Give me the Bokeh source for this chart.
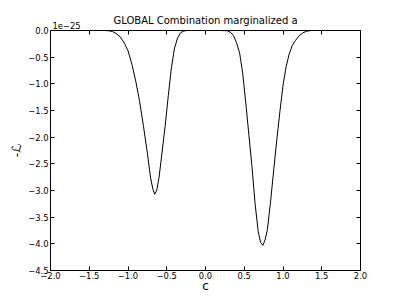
from bokeh.plotting import figure
from bokeh.models import Range1d, LinearAxis, FixedTicker, CustomJSTickFormatter, Title
from bokeh.embed import file_html
from bokeh.resources import INLINE

# Data (y values in units of 1e-25)
c_vals = [-2.0, -1.30, -1.25, -1.20, -1.15, -1.10, -1.05, -1.00, -0.95, -0.90,
          -0.85, -0.80, -0.75, -0.71, -0.68, -0.655, -0.63, -0.60, -0.56, -0.52,
          -0.48, -0.44, -0.40, -0.36, -0.32, -0.28, -0.24,
          0.20, 0.28, 0.32, 0.36, 0.40, 0.44, 0.48, 0.52, 0.56, 0.60,
          0.64, 0.68, 0.71, 0.74, 0.77, 0.80, 0.84, 0.88, 0.92, 0.96,
          1.00, 1.04, 1.08, 1.12, 1.16, 1.20, 1.25, 1.30, 1.36, 2.0]
L_vals = [0.0, 0.0, -0.005, -0.02, -0.06, -0.12, -0.23, -0.38, -0.63, -0.95,
          -1.33, -1.80, -2.30, -2.75, -2.97, -3.07, -3.00, -2.76, -2.28, -1.78,
          -1.22, -0.70, -0.33, -0.14, -0.04, -0.01, 0.0,
          0.0, -0.005, -0.03, -0.09, -0.23, -0.42, -0.80, -1.36, -1.96, -2.56,
          -3.25, -3.77, -3.97, -4.03, -3.92, -3.72, -3.20, -2.62, -2.05, -1.52,
          -1.03, -0.68, -0.44, -0.28, -0.19, -0.11, -0.05, -0.015, 0.0, 0.0]

x_ticks = [-2.0, -1.5, -1.0, -0.5, 0.0, 0.5, 1.0, 1.5, 2.0]
y_ticks = [0.0, -0.5, -1.0, -1.5, -2.0, -2.5, -3.0, -3.5, -4.0, -4.5]

title_text = "GLOBAL Combination marginalized a"
offset_text = "1e\u221225"
x_label = "c"
y_label = "-\u2112"

FONT = "DejaVu Sans"

p = figure(frame_width=310, frame_height=240, x_range=Range1d(-2, 2), y_range=Range1d(-4.5, 0),
           output_backend="svg", toolbar_location=None,
           min_border_left=50, min_border_right=10, min_border_top=30, min_border_bottom=10,
           title=title_text)
p.title.align = "center"
p.title.text_font = FONT
p.title.text_font_size = "10px"
p.title.text_font_style = "normal"
p.title.text_color = "black"
p.title.standoff = -17
p.xgrid.visible = False
p.ygrid.visible = False
p.outline_line_color = "black"
p.background_fill_color = "white"
p.border_fill_color = "white"

fmt = CustomJSTickFormatter(code="return tick.toFixed(1).replace('-', '\u2212');")
blank = CustomJSTickFormatter(code="return '';")

for ax in p.xaxis:
    ax.ticker = FixedTicker(ticks=x_ticks)
for ax in p.yaxis:
    ax.ticker = FixedTicker(ticks=y_ticks)

for ax in list(p.xaxis) + list(p.yaxis):
    ax.formatter = fmt
    ax.major_tick_in = 4
    ax.major_tick_out = 0
    ax.minor_tick_line_color = None
    ax.axis_line_color = "black"
    ax.major_tick_line_color = "black"
    ax.major_label_text_font = FONT
    ax.major_label_text_font_size = "8.4px"
    ax.major_label_text_color = "black"
    ax.axis_label_text_font = FONT
    ax.axis_label_text_font_style = "normal"
    ax.axis_label_text_color = "black"

p.xaxis.major_label_standoff = 1
p.xaxis.axis_label = x_label
p.xaxis.axis_label_text_font_size = "12px"
p.xaxis.axis_label_standoff = -3

p.yaxis.major_label_standoff = 2
p.yaxis.axis_label = y_label
p.yaxis.axis_label_text_font_size = "12.5px"
p.yaxis.axis_label_standoff = 1

top = LinearAxis(ticker=FixedTicker(ticks=x_ticks), formatter=blank, major_tick_in=4, major_tick_out=0,
                 minor_tick_line_color=None, major_label_standoff=0, axis_line_color="black")
right = LinearAxis(ticker=FixedTicker(ticks=y_ticks), formatter=blank, major_tick_in=4, major_tick_out=0,
                   minor_tick_line_color=None, major_label_standoff=0, axis_line_color="black")
p.add_layout(top, "above")
p.add_layout(right, "right")

t_off = Title(text=offset_text, align="left", text_font=FONT, text_font_size="8.4px",
              text_font_style="normal", text_color="black", standoff=4, offset=2)
p.add_layout(t_off, "above")

p.line(c_vals, L_vals, line_color="black", line_width=1)

open("out.html", "w").write(file_html(p, INLINE))
